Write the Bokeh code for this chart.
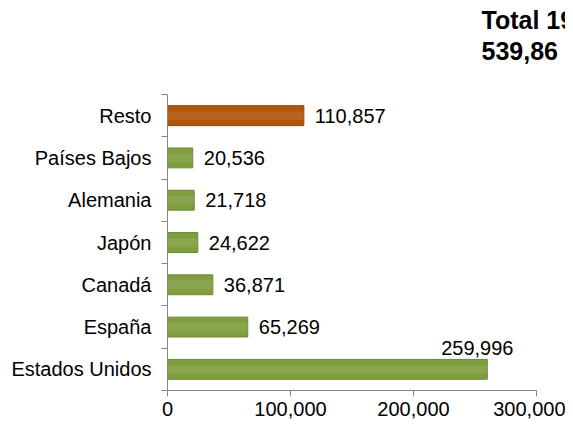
from bokeh.plotting import figure
from bokeh.models import ColumnDataSource, FixedTicker, LinearAxis, Range1d, NumeralTickFormatter, Title
from bokeh.embed import file_html
from bokeh.resources import INLINE
from bokeh.core.properties import value

categories = ["Estados Unidos", "España", "Canadá", "Japón", "Alemania", "Países Bajos", "Resto"]
values = [259996, 65269, 36871, 24622, 21718, 20536, 110857]
colors = ["#7F9F3F", "#7F9F3F", "#7F9F3F", "#7F9F3F", "#7F9F3F", "#7F9F3F", "#B2560C"]
edge_colors = ["#6A8A32", "#6A8A32", "#6A8A32", "#6A8A32", "#6A8A32", "#6A8A32", "#8F4208"]
value_labels = ["259,996", "65,269", "36,871", "24,622", "21,718", "20,536", "110,857"]
title_lines = ["Total 19", "539,86"]
x_ticks = [0, 100000, 200000, 300000]

pos = list(range(len(categories)))
src = ColumnDataSource(dict(y=pos, v=values, c=colors, e=edge_colors, lab=value_labels, cat=categories))

p = figure(width=565, height=420, output_backend="svg", toolbar_location=None,
           x_range=Range1d(0, 300000), y_range=Range1d(-0.5, len(categories) - 0.5),
           min_border_left=167, min_border_right=29, min_border_top=94, min_border_bottom=30)
p.outline_line_color = None
p.xgrid.visible = False
p.ygrid.visible = False
p.background_fill_color = "white"

p.hbar(y="y", right="v", left=0, height=0.47, source=src, fill_color="c", line_color="e", line_width=1)
# highlight strip for bevel look
p.hbar(y="y", right="v", left=0, height=0.2, source=src, fill_color="white", fill_alpha=0.08, line_color=None)

# value labels
idx_in = [i for i in pos if i != 0]
src_lab = ColumnDataSource(dict(y=[pos[i] for i in idx_in], v=[values[i] for i in idx_in], lab=[value_labels[i] for i in idx_in]))
p.text(x="v", y="y", text="lab", source=src_lab, x_offset=11, text_align="left", text_baseline="middle",
       text_font=value("Liberation Sans"), text_font_size="20px", text_color="#000000")
src_top = ColumnDataSource(dict(y=[pos[0]], v=[values[0]], lab=[value_labels[0]]))
p.text(x="v", y="y", text="lab", source=src_top, x_offset=-10, y_offset=-21, text_align="center", text_baseline="middle",
       text_font=value("Liberation Sans"), text_font_size="20px", text_color="#000000")

# x axis
xa = p.xaxis[0]
xa.ticker = FixedTicker(ticks=x_ticks)
xa.formatter = NumeralTickFormatter(format="0,0")
xa.axis_line_color = "#868686"
xa.major_tick_line_color = "#868686"
xa.major_tick_in = 0
xa.major_tick_out = 6
xa.minor_tick_line_color = None
xa.major_label_text_font = "Liberation Sans"
xa.major_label_text_font_size = "20px"
xa.major_label_text_color = "#000000"
xa.major_label_standoff = 5

# y axis: boundary ticks
ya = p.yaxis[0]
ya.ticker = FixedTicker(ticks=[i - 0.5 for i in range(len(categories) + 1)])
ya.major_label_text_font_size = "0px"
ya.major_label_text_color = None
ya.axis_line_color = "#868686"
ya.major_tick_line_color = "#868686"
ya.major_tick_in = 0
ya.major_tick_out = 6
ya.minor_tick_line_color = None
ya.major_label_standoff = 0

# y axis: category labels
ya2 = LinearAxis(ticker=FixedTicker(ticks=pos), major_label_overrides={i: categories[i] for i in pos})
ya2.axis_line_color = None
ya2.major_tick_line_color = None
ya2.minor_tick_line_color = None
ya2.major_label_text_font = "Liberation Sans"
ya2.major_label_text_font_size = "20px"
ya2.major_label_text_color = "#000000"
ya2.major_label_standoff = 4
p.add_layout(ya2, "left")

# title lines (clipped at right edge like the reference)
spacer = Title(text=" ", text_font_size="2px", text_color="white", standoff=28)
t2 = Title(text=title_lines[1], align="left", offset=314, text_font="Liberation Sans", text_font_style="bold",
           text_font_size="25px", text_color="#000000", standoff=6)
t1 = Title(text=title_lines[0], align="left", offset=314, text_font="Liberation Sans", text_font_style="bold",
           text_font_size="25px", text_color="#000000", standoff=6)
p.add_layout(spacer, "above")
p.add_layout(t2, "above")
p.add_layout(t1, "above")

open("out.html", "w").write(file_html(p, INLINE))
